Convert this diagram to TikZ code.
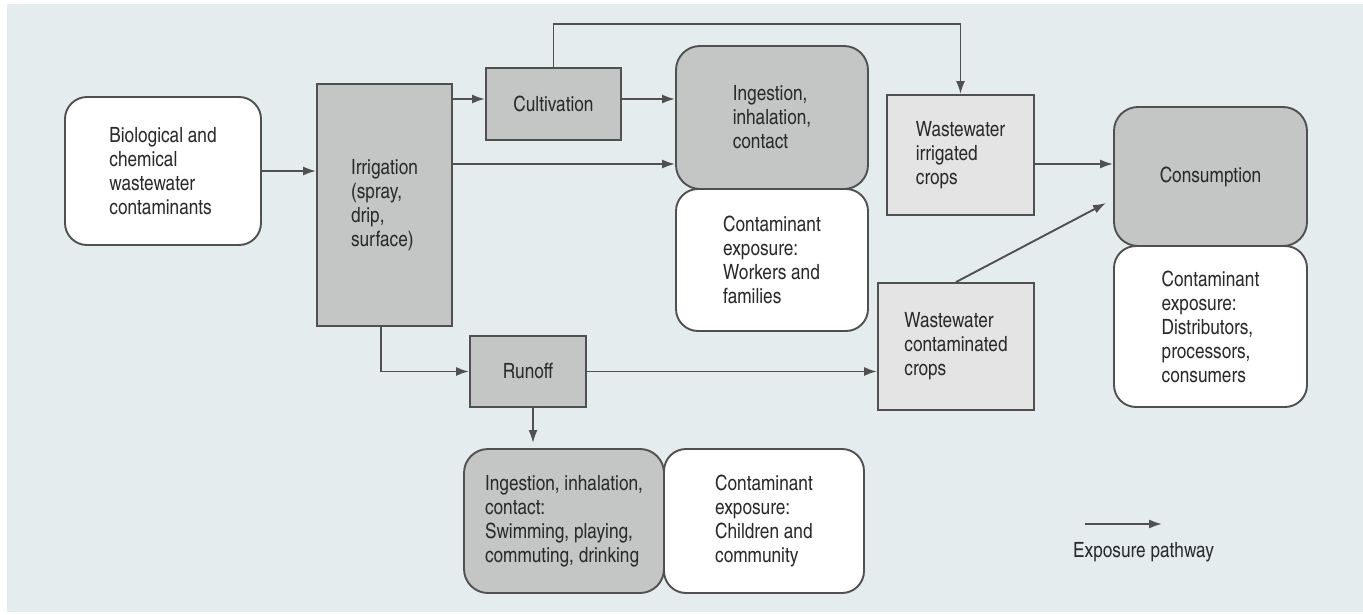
\documentclass[tikz,border=0pt]{standalone}
\usepackage{fontspec}
\setmainfont{texgyreheroscn}[Extension=.otf, UprightFont=*-regular, BoldFont=*-bold]
\usepackage{tikz}
\usetikzlibrary{arrows.meta}

\definecolor{panel}{HTML}{E5ECEE}
\definecolor{darkfill}{HTML}{C4C5C5}
\definecolor{lightfill}{HTML}{E4E4E4}
\definecolor{edge}{HTML}{505050}
\definecolor{ink}{HTML}{2A2A2A}

\tikzset{
  box/.style={draw=edge, line width=1.9pt, text=ink, align=left, inner sep=0pt,
    font=\fontsize{21}{24}\selectfont},
  darkbox/.style={box, fill=darkfill},
  lightbox/.style={box, fill=lightfill},
  whitebox/.style={box, fill=white, rounded corners=22pt},
  roundbox/.style={darkbox, rounded corners=24pt},
  arr/.style={draw=edge, line width=1.9pt, -{Latex[length=13pt,width=9pt]}}
}

\begin{document}
\begin{tikzpicture}[x=1pt, y=-1pt]
    \useasboundingbox (0,0) rectangle (1363,615);
    \fill[white] (0,0) rectangle (1363,615);
    \fill[panel] (7,4) rectangle (1363,612);

    % boxes
    \node[whitebox, minimum width=196, minimum height=148] (bio) at (163,171)
        {Biological and\\chemical\\wastewater\\contaminants};
    \node[darkbox, minimum width=135, minimum height=242] (irr) at (384.5,205)
        {Irrigation\\(spray,\\drip,\\surface)};
    \node[darkbox, minimum width=135, minimum height=72] (cult) at (553.5,104) {Cultivation};
    \node[roundbox, minimum width=192, minimum height=143] (ing) at (772,117.5)
        {Ingestion,\\inhalation,\\contact\hspace{12pt}};
    \node[whitebox, minimum width=192, minimum height=142] (expw) at (772,260)
        {Contaminant\\exposure:\\Workers and\\families};
    \node[lightbox, minimum width=147, minimum height=120] (wic) at (960.5,155)
        {Wastewater\\irrigated\\crops};
    \node[roundbox, minimum width=193, minimum height=139] (cons) at (1210.5,176.5) {Consumption};
    \node[whitebox, minimum width=193, minimum height=161] (expd) at (1210.5,326.5)
        {Contaminant\\exposure:\\Distributors,\\processors,\\consumers\hspace{10pt}};
    \node[lightbox, minimum width=156, minimum height=127] (wcc) at (956,346.5)
        {Wastewater\\contaminated\\crops};
    \node[darkbox, minimum width=116, minimum height=71] (run) at (528,371.5) {Runoff};
    \node[roundbox, minimum width=200, minimum height=144] (ingr) at (564,521)
        {Ingestion, inhalation,\\contact:\\Swimming, playing,\\commuting, drinking};
    \node[whitebox, minimum width=200, minimum height=144] (expc) at (764,521)
        {Contaminant\\exposure:\\Children and\\community};

    % pathways
    \draw[arr] (bio.east) -- (bio.east -| irr.west);
    \draw[arr] (irr.east |- 0,99) -- ([yshift=5pt]cult.west);
    \draw[arr] ([yshift=5pt]cult.east) -- ([yshift=5pt]cult.east -| ing.west);
    \coordinate (i) at ([yshift=-46.5pt]ing.west);
    \draw[arr] (irr.east |- i) -- (i);
    \draw[arr] (cult.north) -- ++(0,-43) -| (wic.north);
    \draw[arr] ([yshift=-9pt]wic.east) -- ([yshift=-9pt]wic.east -| cons.west);
    \draw[arr] (wcc.north) -- ([xshift=-7pt,yshift=-26.5pt]cons.west);
    \draw[arr] ([xshift=-3.5pt]irr.south) |- (run.west);
    \draw[arr] (run.east) -- (run.east -| wcc.west);
    \draw[arr] ([xshift=5pt]run.south) -- ([xshift=5pt,yshift=5pt]run.south |- ingr.north);

    % legend
    \coordinate (la) at (1085,524);
    \coordinate (lb) at (1162,524);
    \draw[arr] (la) -- (lb);
    \node[anchor=west, text=ink, inner sep=0pt, font=\fontsize{21}{24}\selectfont] (leg) at (1073,552) {Exposure pathway};
\end{tikzpicture}
\end{document}
